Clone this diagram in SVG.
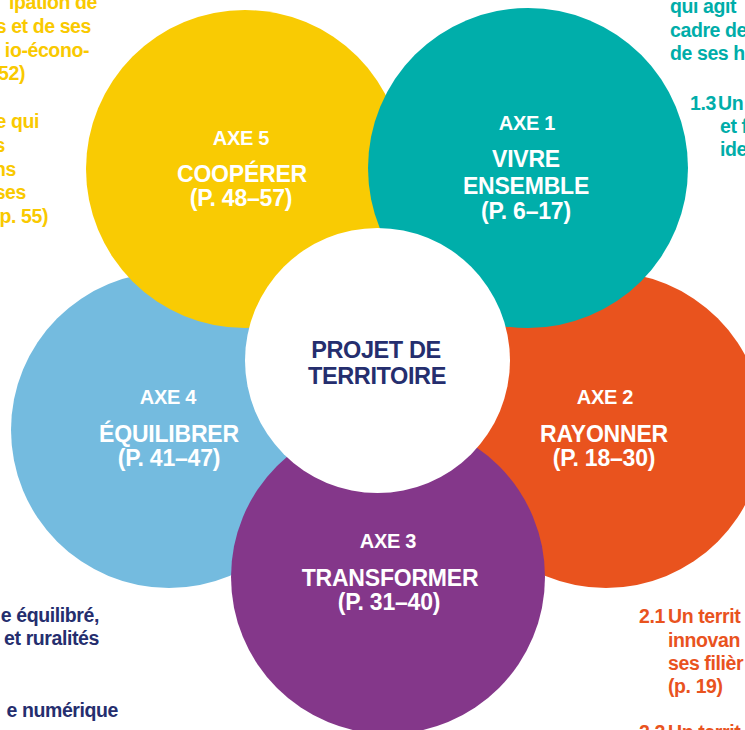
<svg xmlns="http://www.w3.org/2000/svg" width="745" height="730" viewBox="0 0 745 730">
<style>
  .lbl { font-family: "Liberation Sans", Arial, sans-serif; font-weight: bold; fill: #ffffff; text-anchor: middle; }
  .axe { font-size: 20px; letter-spacing: -0.3px; }
  .ttl { font-size: 23px; letter-spacing: -0.2px; }
  .center { font-family: "Liberation Sans", Arial, sans-serif; font-weight: bold; fill: #252E6E; text-anchor: middle; font-size: 23.5px; letter-spacing: -0.4px; }
  .note { font-family: "Liberation Sans", Arial, sans-serif; font-weight: bold; font-size: 19.5px; letter-spacing: -0.4px; }
  .yel { fill: #F9C900; }
  .tea { fill: #00ADA9; }
  .ora { fill: #E9531E; }
  .nav { fill: #252E6E; }
</style>
<rect width="745" height="730" fill="#ffffff"/>

<g id="notes">
  <g id="note-axe5" class="note yel" text-anchor="end">
    <text x="97" y="9">ipation de</text>
    <text x="91" y="33">s et de ses</text>
    <text x="89" y="57">io-écono-</text>
    <text x="25" y="80">52)</text>
    <text x="39" y="128">e qui</text>
    <text x="5" y="152">s</text>
    <text x="16" y="176">ns</text>
    <text x="26" y="199">ses</text>
    <text x="48" y="223">p. 55)</text>
  </g>
  <g id="note-axe1" class="note tea">
    <text x="670" y="13">qui agit</text>
    <text x="670" y="37">cadre de</text>
    <text x="670" y="60">de ses h</text>
    <text x="690" y="110">1.3</text>
    <text x="718" y="110">Un</text>
    <text x="720" y="133">et f</text>
    <text x="720" y="156">ide</text>
  </g>
  <g id="note-axe4" class="note nav" text-anchor="end">
    <text x="99" y="622">e équilibré,</text>
    <text x="99" y="645">et ruralités</text>
    <text x="118" y="717">e numérique</text>
  </g>
  <g id="note-axe2" class="note ora">
    <text x="639" y="623">2.1</text>
    <text x="668" y="623">Un territ</text>
    <text x="668" y="647">innovan</text>
    <text x="668" y="670">ses filièr</text>
    <text x="668" y="693">(p. 19)</text>
    <text x="639" y="739">2.2</text>
    <text x="668" y="739">Un territ</text>
  </g>
</g>

<g id="connectors"></g>

<g id="axe4">
  <circle cx="169" cy="430" r="158" fill="#74BBDF"/>
  <text class="lbl axe" x="168" y="404">AXE 4</text>
  <text class="lbl ttl" x="169" y="442">ÉQUILIBRER</text>
  <text class="lbl ttl" x="169" y="466">(P. 41–47)</text>
</g>

<g id="axe2">
  <circle cx="606" cy="430" r="158" fill="#E9531E"/>
  <text class="lbl axe" x="605" y="404">AXE 2</text>
  <text class="lbl ttl" x="604" y="442">RAYONNER</text>
  <text class="lbl ttl" x="604" y="466">(P. 18–30)</text>
</g>

<g id="axe5">
  <circle cx="245" cy="169" r="159" fill="#F9CB03"/>
  <text class="lbl axe" x="241" y="145">AXE 5</text>
  <text class="lbl ttl" x="242" y="182">COOPÉRER</text>
  <text class="lbl ttl" x="241" y="206">(P. 48–57)</text>
</g>

<g id="axe1">
  <circle cx="528" cy="168" r="160" fill="#00AEAA"/>
  <text class="lbl axe" x="527" y="130">AXE 1</text>
  <text class="lbl ttl" x="526" y="167">VIVRE</text>
  <text class="lbl ttl" x="526" y="194">ENSEMBLE</text>
  <text class="lbl ttl" x="526" y="219">(P. 6–17)</text>
</g>

<g id="axe3">
  <circle cx="388" cy="577" r="157" fill="#84378A"/>
  <text class="lbl axe" x="388" y="548">AXE 3</text>
  <text class="lbl ttl" x="390" y="586">TRANSFORMER</text>
  <text class="lbl ttl" x="389" y="610">(P. 31–40)</text>
</g>

<g id="projet">
  <circle cx="377.5" cy="360.5" r="132.5" fill="#ffffff"/>
  <text class="center" x="376" y="358">PROJET DE</text>
  <text class="center" x="377" y="384">TERRITOIRE</text>
</g>
</svg>
